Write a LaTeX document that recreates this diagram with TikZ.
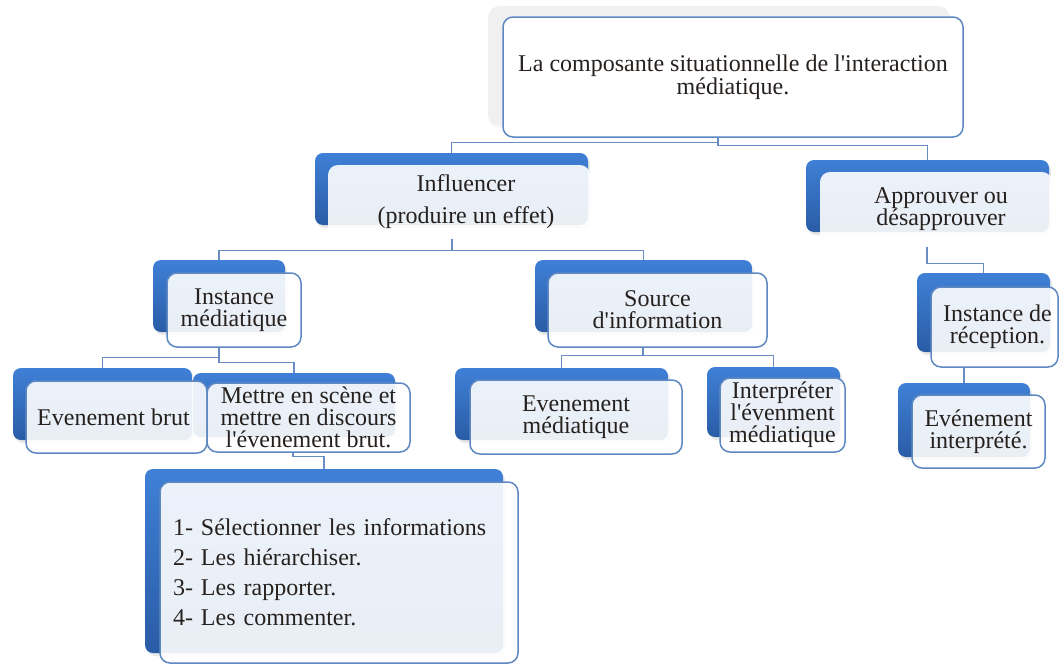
\documentclass[tikz,border=0pt]{standalone}
\usepackage{fontspec}
\setmainfont{Liberation Serif}[Ligatures=TeXOff]
\usetikzlibrary{shadows}

\definecolor{linkblue}{HTML}{6A8CC4}
\definecolor{backtop}{HTML}{3F80D6}
\definecolor{backbot}{HTML}{2A5CA6}
\definecolor{frontedge}{HTML}{5E88C2}
\definecolor{ink}{HTML}{26211E}
\definecolor{ghost}{HTML}{F0F0F0}

\pgfdeclarelayer{links}
\pgfsetlayers{links,main}

\tikzset{
  % a box given by its left, top, right and bottom edges (in pixel units)
  area/.style n args={4}{minimum width={(#3-#1)*0.5pt},
    minimum height={(#4-#2)*0.5pt}, at={({(#1+#3)/2},{(#2+#4)/2})}},
  link/.style={draw=linkblue, line width=0.7pt},
  backbox/.style={rounded corners=4pt, top color=backtop, bottom color=backbot,
    draw=none, inner sep=0pt,
    drop shadow={opacity=0.18, shadow xshift=1pt, shadow yshift=-1.5pt}},
  ghostbox/.style={rounded corners=6pt, fill=ghost, draw=none, inner sep=0pt,
    drop shadow={opacity=0.08, shadow xshift=0pt, shadow yshift=-1.5pt}},
  frontbox/.style={rounded corners=5pt, draw=frontedge, line width=0.75pt,
    fill=white, fill opacity=0.9, text opacity=1, inner sep=0pt,
    align=center, text=ink, font=\fontsize{12}{11}\selectfont},
  frontsoft/.style={frontbox, draw=none},
}

\begin{document}
\begin{tikzpicture}[x=0.5pt, y=-0.5pt]
\useasboundingbox (0,0) rectangle (1059,664);

% back plates
\node[ghostbox, area={488}{6}{950}{125}] (top-b) {};
\node[backbox, area={315}{153}{588}{225}] (infl-b) {};
\node[backbox, area={806}{160}{1049}{232}] (appr-b) {};
\node[backbox, area={153}{260}{285}{332}] (inst-b) {};
\node[backbox, area={535}{260}{752}{332}] (src-b) {};
\node[backbox, area={917}{273}{1050}{352}] (recep-b) {};
\node[backbox, area={898}{383}{1030}{457}] (evint-b) {};
\node[backbox, area={13}{368}{192}{440}] (brut-b) {};
\node[backbox, area={193}{373}{395}{437}] (mettre-b) {};
\node[backbox, area={455}{368}{668}{440}] (evmed-b) {};
\node[backbox, area={707}{367}{840}{437}] (interp-b) {};
\node[backbox, area={145}{469}{503}{653}] (list-b) {};

% front cards
\node[frontbox, fill opacity=1, font=\fontsize{12}{11.5}\selectfont,
  area={503}{17}{963}{137}] (top)
  {La composante situationnelle de l'interaction\\médiatique.};
\node[frontsoft, font=\fontsize{12}{16}\selectfont, area={328}{165}{590}{238}] (infl)
  {\hspace*{7pt}Influencer\\\hspace*{7pt}(produire un effet)};
\node[frontsoft, area={820}{172}{1052}{246}] (appr)
  {\hspace*{5pt}Approuver ou\\\hspace*{5pt}désapprouver};
\node[frontbox, area={167}{273}{301}{347}] (inst)
  {Instance\\médiatique};
\node[frontbox, area={548}{273}{767}{347}] (src)
  {Source\\d'information};
\node[frontbox, area={931}{287}{1058}{367}] (recep)
  {\hspace*{3pt}Instance de\\\hspace*{3pt}réception.};
\node[frontbox, area={912}{395}{1045}{468}] (evint)
  {Evénement\\interprété.};
\node[frontbox, area={26}{381}{207}{453}] (brut)
  {Evenement brut\hspace*{3pt}};
\node[frontbox, area={207}{383}{410}{452}] (mettre)
  {Mettre en scène et\\mettre en discours\\l'évenement brut.};
\node[frontbox, area={470}{380}{682}{454}] (evmed)
  {Evenement\\médiatique};
\node[frontbox, area={720}{378}{845}{452}] (interp)
  {Interpréter\\l'évenment\\médiatique};
\node[frontbox, align=left, font=\fontsize{12}{15}\selectfont,
  text width=166pt, inner xsep=6.5pt, area={160}{482}{518}{663}] (list)
  {1- Sélectionner les informations\\2- Les hiérarchiser.\\3- Les rapporter.\\4- Les commenter.};

% connectors
\begin{pgfonlayer}{links}
\draw[link] ([xshift=-7.5pt]top.south) -- ++(0,5) -| (infl-b.north);
\draw[link] ([xshift=-7.5pt]top.south) -- ++(0,8) -| (appr-b.north);
\draw[link] ([xshift=-3.5pt]infl.south) -- ++(0,12) -| (inst-b.north);
\draw[link] ([xshift=-3.5pt]infl.south) -- ++(0,12) -| (src-b.north);
\draw[link] ([xshift=-4.5pt]appr.south) -- ++(0,17) -| (recep-b.north);
\draw[link] ([xshift=-7.5pt]inst.south) -- ++(0,10) -| (brut-b.north);
\draw[link] ([xshift=-7.5pt]inst.south) -- ++(0,15) -| (mettre-b.north);
\draw[link] ([xshift=-7.75pt]mettre.south) -- ++(0,4) -| (list-b.north);
\draw[link] ([xshift=-7.25pt]src.south) -- ++(0,8) -| (evmed-b.north);
\draw[link] ([xshift=-7.25pt]src.south) -- ++(0,8) -| (interp-b.north);
\draw[link] (recep.south -| evint-b.north) -- (evint-b.north);
\end{pgfonlayer}
\end{tikzpicture}
\end{document}
